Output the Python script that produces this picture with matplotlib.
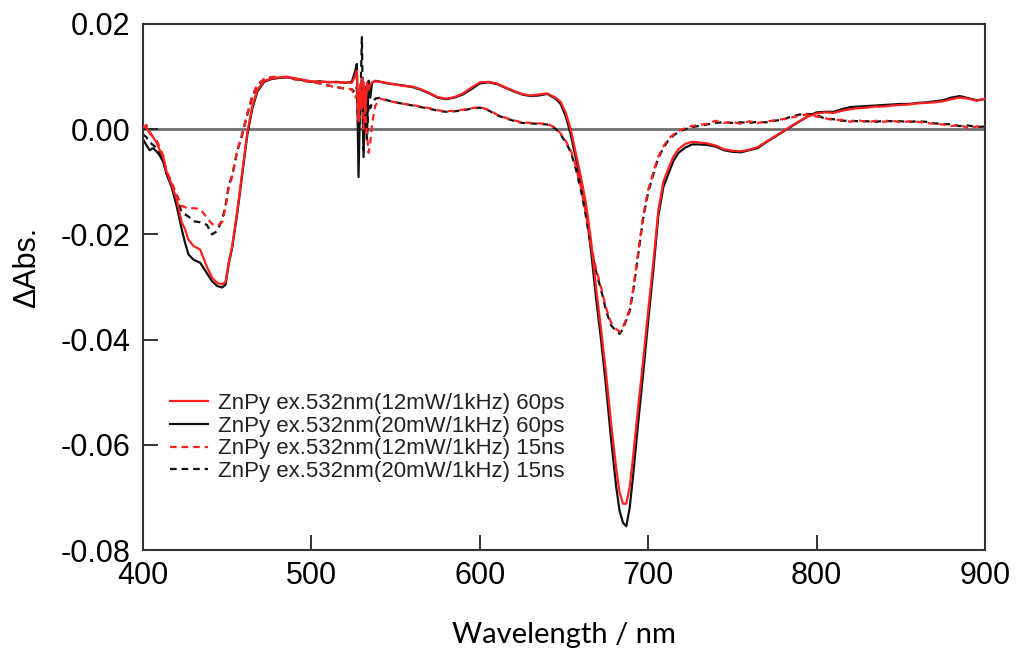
import numpy as np
import matplotlib
matplotlib.use("Agg")
import matplotlib.pyplot as plt

# wavelengths (nm), shared by all four spectra
wavelength = [
    400, 402, 404, 406, 408, 410, 412, 414, 417, 420,
    423, 425, 427, 430, 434, 438, 441, 444, 447, 449,
    451, 453, 456, 459, 462, 465, 468, 472, 476, 480,
    485, 490, 495, 500, 505, 510, 515, 520, 524, 526,
    527, 528, 529, 530, 531, 532, 533, 534, 535, 536,
    538, 541, 545, 550, 555,
    560, 565, 570, 575, 580, 585, 590, 595, 600, 605,
    610, 615, 620, 625, 630, 635, 640, 645,
    648, 651, 654, 657, 660, 663, 666, 669, 672, 675,
    678, 681, 683, 685, 687, 689, 691, 694, 697, 700,
    703, 706, 709, 712, 715, 718, 722, 726,
    730, 735, 740, 745, 750, 755, 760, 765, 770, 775,
    780, 785, 790, 795, 800, 805, 810, 815, 820, 825,
    830, 835, 840, 845, 850, 855, 860, 865, 870, 875,
    880, 885, 890, 895, 900,
]

# 12mW, 60ps (red solid)
red_60ps = [
    0.0006, 0.0003, -0.0008, -0.0015, -0.0025, -0.0040, -0.0052, -0.0080, -0.0105, -0.0133,
    -0.0177, -0.0190, -0.0210, -0.0222, -0.0229, -0.0262, -0.0282, -0.0292, -0.0295, -0.0290,
    -0.0252, -0.0222, -0.0155, -0.0080, -0.0005, 0.0045, 0.0075, 0.0092, 0.0096, 0.0098,
    0.0100, 0.0097, 0.0094, 0.0091, 0.0090, 0.0090, 0.0089, 0.0089, 0.0088, 0.0100,
    0.0111, 0.0016, 0.0085, 0.0040, 0.0090, 0.0030, 0.0088, 0.0075, 0.0085, 0.0089,
    0.0091, 0.0090, 0.0088, 0.0085, 0.0082,
    0.0081, 0.0076, 0.0069, 0.0061, 0.0058, 0.0061, 0.0068, 0.0079, 0.0089, 0.0090,
    0.0087, 0.0080, 0.0073, 0.0067, 0.0064, 0.0066, 0.0068, 0.0060,
    0.0052, 0.0032, 0.0000, -0.0045, -0.0090, -0.0140, -0.0210, -0.0300, -0.0380, -0.0465,
    -0.0560, -0.0645, -0.0690, -0.0712, -0.0712, -0.0680, -0.0625, -0.0530, -0.0440, -0.0345,
    -0.0255, -0.0155, -0.0100, -0.0075, -0.0052, -0.0038, -0.0028, -0.0024,
    -0.0025, -0.0027, -0.0031, -0.0038, -0.0041, -0.0042, -0.0039, -0.0034, -0.0024, -0.0014,
    -0.0004, 0.0006, 0.0016, 0.0024, 0.0030, 0.0032, 0.0031, 0.0035, 0.0038, 0.0040,
    0.0041, 0.0043, 0.0043, 0.0045, 0.0046, 0.0047, 0.0049, 0.0050, 0.0051, 0.0053,
    0.0057, 0.0060, 0.0058, 0.0054, 0.0058,
]

# 20mW, 60ps (black solid)
black_60ps = [
    -0.0019, -0.0030, -0.0040, -0.0036, -0.0042, -0.0050, -0.0062, -0.0085, -0.0110, -0.0146,
    -0.0190, -0.0216, -0.0238, -0.0248, -0.0254, -0.0274, -0.0289, -0.0298, -0.0301, -0.0296,
    -0.0255, -0.0225, -0.0160, -0.0085, -0.0010, 0.0040, 0.0072, 0.0090, 0.0095, 0.0097,
    0.0099, 0.0096, 0.0093, 0.0090, 0.0091, 0.0089, 0.0090, 0.0088, 0.0090, 0.0110,
    0.0124, -0.0091, 0.0060, 0.0095, -0.0053, 0.0080, -0.0010, 0.0092, 0.0060, 0.0088,
    0.0092, 0.0090, 0.0087, 0.0085, 0.0083,
    0.0080, 0.0075, 0.0068, 0.0060, 0.0057, 0.0060, 0.0066, 0.0076, 0.0087, 0.0089,
    0.0086, 0.0079, 0.0072, 0.0066, 0.0063, 0.0064, 0.0067, 0.0058,
    0.0048, 0.0025, -0.0010, -0.0055, -0.0100, -0.0152, -0.0229, -0.0320, -0.0400, -0.0490,
    -0.0590, -0.0680, -0.0725, -0.0748, -0.0755, -0.0720, -0.0660, -0.0560, -0.0465, -0.0365,
    -0.0270, -0.0165, -0.0110, -0.0085, -0.0060, -0.0045, -0.0035, -0.0029,
    -0.0029, -0.0030, -0.0033, -0.0040, -0.0043, -0.0044, -0.0040, -0.0036, -0.0025, -0.0015,
    -0.0005, 0.0005, 0.0015, 0.0025, 0.0032, 0.0033, 0.0033, 0.0038, 0.0042, 0.0043,
    0.0044, 0.0045, 0.0046, 0.0047, 0.0048, 0.0048, 0.0050, 0.0051, 0.0053, 0.0055,
    0.0060, 0.0063, 0.0059, 0.0055, 0.0057,
]

# 12mW, 15ns (red dashed)
red_15ns = [
    0.0003, 0.0008, -0.0005, -0.0015, -0.0020, -0.0035, -0.0050, -0.0080, -0.0100, -0.0124,
    -0.0146, -0.0148, -0.0152, -0.0150, -0.0152, -0.0168, -0.0180, -0.0184, -0.0177, -0.0150,
    -0.0110, -0.0090, -0.0040, -0.0008, 0.0030, 0.0065, 0.0085, 0.0096, 0.0099, 0.0100,
    0.0098, 0.0095, 0.0092, 0.0090, 0.0087, 0.0083, 0.0080, 0.0077, 0.0076, 0.0060,
    0.0065, 0.0010, 0.0030, 0.0100, 0.0000, 0.0040, -0.0010, -0.0045, -0.0025, 0.0010,
    0.0045, 0.0058, 0.0054, 0.0051, 0.0048,
    0.0046, 0.0043, 0.0040, 0.0036, 0.0034, 0.0035, 0.0037, 0.0040, 0.0042, 0.0037,
    0.0028, 0.0022, 0.0017, 0.0013, 0.0012, 0.0011, 0.0010, 0.0003,
    -0.0008, -0.0022, -0.0040, -0.0070, -0.0110, -0.0160, -0.0220, -0.0265, -0.0300, -0.0340,
    -0.0368, -0.0380, -0.0385, -0.0376, -0.0360, -0.0342, -0.0305, -0.0235, -0.0165, -0.0115,
    -0.0082, -0.0052, -0.0033, -0.0018, -0.0010, -0.0003, 0.0002, 0.0006,
    0.0008, 0.0010, 0.0016, 0.0012, 0.0014, 0.0010, 0.0015, 0.0012, 0.0014, 0.0017,
    0.0019, 0.0022, 0.0026, 0.0028, 0.0024, 0.0021, 0.0017, 0.0018, 0.0014, 0.0017,
    0.0013, 0.0016, 0.0014, 0.0016, 0.0013, 0.0015, 0.0014, 0.0012, 0.0010, 0.0009,
    0.0006, 0.0008, 0.0002, 0.0005, 0.0007,
]

# 20mW, 15ns (black dashed)
black_15ns = [
    -0.0010, -0.0015, -0.0025, -0.0030, -0.0035, -0.0045, -0.0058, -0.0085, -0.0105, -0.0130,
    -0.0158, -0.0162, -0.0166, -0.0175, -0.0177, -0.0182, -0.0200, -0.0194, -0.0172, -0.0146,
    -0.0105, -0.0088, -0.0042, -0.0010, 0.0028, 0.0062, 0.0083, 0.0095, 0.0098, 0.0099,
    0.0098, 0.0095, 0.0092, 0.0090, 0.0087, 0.0083, 0.0080, 0.0077, 0.0076, 0.0070,
    0.0080, -0.0020, 0.0040, 0.0175, -0.0040, 0.0060, -0.0020, 0.0050, 0.0040, 0.0050,
    0.0058, 0.0060, 0.0055, 0.0051, 0.0048,
    0.0045, 0.0042, 0.0039, 0.0035, 0.0033, 0.0034, 0.0036, 0.0039, 0.0041, 0.0036,
    0.0027, 0.0021, 0.0016, 0.0012, 0.0011, 0.0010, 0.0009, 0.0001,
    -0.0010, -0.0025, -0.0043, -0.0075, -0.0115, -0.0165, -0.0225, -0.0270, -0.0305, -0.0345,
    -0.0373, -0.0384, -0.0389, -0.0380, -0.0363, -0.0346, -0.0310, -0.0240, -0.0170, -0.0120,
    -0.0086, -0.0055, -0.0036, -0.0021, -0.0012, -0.0005, 0.0000, 0.0004,
    0.0006, 0.0009, 0.0012, 0.0013, 0.0012, 0.0013, 0.0012, 0.0014, 0.0013, 0.0016,
    0.0018, 0.0024, 0.0028, 0.0029, 0.0027, 0.0020, 0.0019, 0.0016, 0.0016, 0.0015,
    0.0015, 0.0014, 0.0016, 0.0015, 0.0015, 0.0014, 0.0015, 0.0014, 0.0011, 0.0010,
    0.0009, 0.0006, 0.0007, 0.0004, 0.0005,
]

labels = [
    "ZnPy ex.532nm(12mW/1kHz) 60ps",
    "ZnPy ex.532nm(20mW/1kHz) 60ps",
    "ZnPy ex.532nm(12mW/1kHz) 15ns",
    "ZnPy ex.532nm(20mW/1kHz) 15ns",
]

x_ticks = [400, 500, 600, 700, 800, 900]
y_ticks = [-0.08, -0.06, -0.04, -0.02, 0.00, 0.02]

plt.rcParams['font.family'] = ['Liberation Sans', 'DejaVu Sans']

fig = plt.figure(figsize=(10.16, 6.55), dpi=100)
ax = fig.add_axes([0.1407, 0.1603, 0.8288, 0.8031])

ax.axhline(0, color='#707070', lw=2, zorder=1)

ax.plot(wavelength, red_60ps, color='#ff2020', lw=1.6, label=labels[0], zorder=3)
ax.plot(wavelength, black_60ps, color='#111111', lw=1.6, label=labels[1], zorder=2)
ax.plot(wavelength, red_15ns, color='#ff2020', lw=1.6, ls=(0, (3, 2.2)), label=labels[2], zorder=3)
ax.plot(wavelength, black_15ns, color='#111111', lw=1.6, ls=(0, (3, 2.2)), label=labels[3], zorder=2)

ax.set_xlim(400, 900)
ax.set_ylim(-0.08, 0.02)
ax.set_xticks(x_ticks)
ax.set_yticks(y_ticks)
ax.set_yticklabels([f"{v:.2f}" for v in y_ticks])
ax.tick_params(direction='in', length=11, width=1.3, labelsize=22, color='#222222')
ax.tick_params(axis='x', pad=8)
ax.tick_params(axis='y', pad=9)
for sp in ax.spines.values():
    sp.set_linewidth(1.5)
    sp.set_color('#333333')

ax.set_xlabel("Wavelength / nm", family=['Lato', 'DejaVu Sans'], fontsize=21, labelpad=22)
fig.text(0.027, 0.591, "\u0394Abs.", rotation=90, ha='center', va='center', fontsize=22)

leg = ax.legend(loc='upper left', bbox_to_anchor=(0.032, 0.298), frameon=False,
                fontsize=16, borderpad=0, borderaxespad=0, handlelength=1.7,
                handletextpad=0.45, labelspacing=0.07)
for t in leg.get_texts():
    t.set_color('#222222')

fig.savefig("out.png", dpi=100)
